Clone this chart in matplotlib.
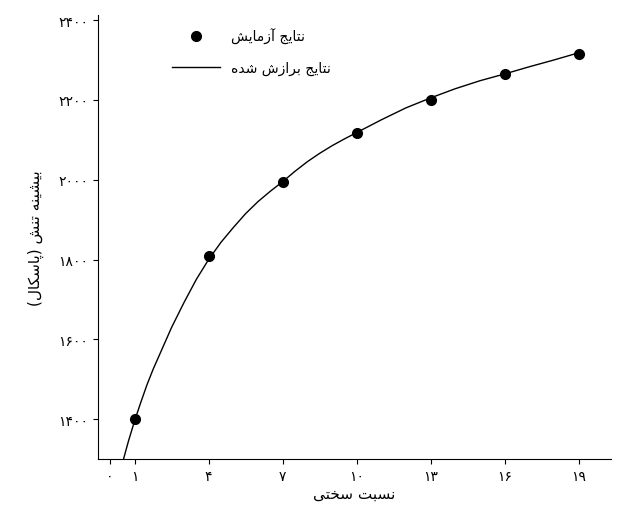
import matplotlib
matplotlib.use('Agg')
import matplotlib.pyplot as plt

# forms: isolated, final, initial, medial
FORMS = {
    'ا': (0xFE8D, 0xFE8E), 'آ': (0xFE81, 0xFE82), 'د': (0xFEA9, 0xFEAA),
    'ر': (0xFEAD, 0xFEAE), 'ز': (0xFEAF, 0xFEB0),
    'ب': (0xFE8F, 0xFE90, 0xFE91, 0xFE92), 'پ': (0xFB56, 0xFB57, 0xFB58, 0xFB59),
    'ت': (0xFE95, 0xFE96, 0xFE97, 0xFE98), 'ج': (0xFE9D, 0xFE9E, 0xFE9F, 0xFEA0),
    'خ': (0xFEA5, 0xFEA6, 0xFEA7, 0xFEA8), 'س': (0xFEB1, 0xFEB2, 0xFEB3, 0xFEB4),
    'ش': (0xFEB5, 0xFEB6, 0xFEB7, 0xFEB8), 'ک': (0xFB8E, 0xFB8F, 0xFB90, 0xFB91),
    'ل': (0xFEDD, 0xFEDE, 0xFEDF, 0xFEE0), 'م': (0xFEE1, 0xFEE2, 0xFEE3, 0xFEE4),
    'ن': (0xFEE5, 0xFEE6, 0xFEE7, 0xFEE8), 'ه': (0xFEE9, 0xFEEA, 0xFEEB, 0xFEEC),
    'ی': (0xFBFC, 0xFBFD, 0xFBFE, 0xFBFF),
}


def shape(s):
    out = []
    for i, c in enumerate(s):
        if c not in FORMS:
            out.append(c)
            continue
        f = FORMS[c]
        prev = s[i - 1] if i > 0 else ''
        nxt = s[i + 1] if i + 1 < len(s) else ''
        jp = prev in FORMS and len(FORMS[prev]) == 4
        jn = nxt in FORMS and len(f) == 4
        if jp and jn:
            k = 3
        elif jp:
            k = 1
        elif jn:
            k = 2
        else:
            k = 0
        out.append(chr(f[k]))
    r = ''.join(out)[::-1]
    return r.translate(str.maketrans('()', ')('))


def fa(n):
    return str(n).translate(str.maketrans('0123456789', '۰۱۲۳۴۵۶۷۸۹'))


exp_x = [1, 4, 7, 10, 13, 16, 19]
exp_y = [1400, 1810, 1995, 2118, 2200, 2265, 2315]
fit_x = [0.55, 0.75, 1, 1.25, 1.5, 1.75, 2, 2.5, 3, 3.5, 4, 4.5, 5, 5.5, 6, 6.5, 7,
         7.5, 8, 8.5, 9, 9.5, 10, 11, 12, 13, 14, 15, 16, 17, 18, 19]
fit_y = [1300, 1345, 1396, 1442, 1486, 1525, 1560, 1630, 1692, 1750, 1800,
         1843, 1880, 1915, 1945, 1971, 1995, 2021, 2045, 2066, 2085, 2102, 2118,
         2150, 2180, 2205, 2228, 2248, 2265, 2283, 2300, 2318]
xticks = [0, 1, 4, 7, 10, 13, 16, 19]
yticks = [1400, 1600, 1800, 2000, 2200, 2400]

fig = plt.figure(figsize=(6.18, 5.10), dpi=100)
ax = fig.add_axes([0.158, 0.098, 0.83, 0.87])
ax.plot(exp_x, exp_y, 'o', color='black', ms=7, label=shape('نتایج آزمایش'))
ax.plot(fit_x, fit_y, color='black', lw=1, label=shape('نتایج برازش شده'))
ax.set_xlim(-0.5, 20.3)
ax.set_ylim(1300, 2412)
ax.set_xticks(xticks)
ax.set_xticklabels([fa(v) for v in xticks], fontsize=10)
ax.set_yticks(yticks)
ax.set_yticklabels([fa(v) for v in yticks], fontsize=10)
for s in ['top', 'right']:
    ax.spines[s].set_visible(False)
ax.set_xlabel(shape('نسبت سختی'), fontsize=11, labelpad=2)
ax.set_ylabel(shape('بیشینه تنش (پاسکال)'), fontsize=11, labelpad=10)
ax.legend(loc='upper left', bbox_to_anchor=(0.12, 1.0), frameon=False,
          fontsize=10, labelspacing=1.2, handlelength=3.5)
fig.savefig('out.png')
